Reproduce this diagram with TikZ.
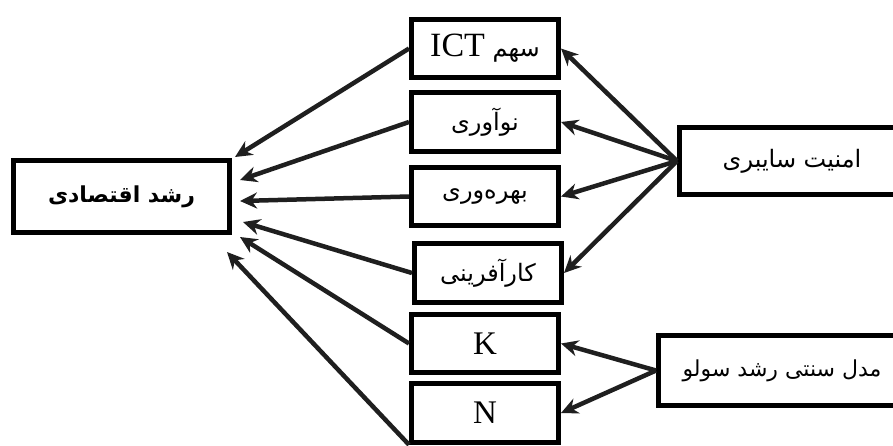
\documentclass[tikz,border=0pt]{standalone}
\usepackage{fontspec}
\setmainfont{Liberation Serif}
\newfontfamily\fa[Script=Arabic]{DejaVu Sans}
\TeXXeTstate=1
\usetikzlibrary{arrows.meta, positioning}

\tikzset{
	box/.style={draw, line width=5pt, minimum width=147pt, minimum height=58.5pt, inner sep=0pt,
		font=\fa\fontsize{24}{28}\selectfont},
	latin/.style={font=\rmfamily\fontsize{33}{38}\selectfont},
	link/.style={->, line width=4.5pt, draw=black!88},
	>={Stealth[length=17pt, width=16pt]}
}

\begin{document}
\begin{tikzpicture}[x=1pt, y=-1pt]
	\useasboundingbox (0,0) rectangle (893,445);
	\clip (0,0) rectangle (893,445);

	\node[box, minimum width=216pt, minimum height=72pt, font=\fa\bfseries\fontsize{22}{26}\selectfont]
		(econ) at (121.5,196.5) {\beginR رشد اقتصادی\endR};

	\node[box] 					(ict) 	at (485,48.5) {\beginR سهم {\rmfamily\fontsize{34}{38}\selectfont ICT}\endR};
	\node[box] 					(inno) 	[below=10pt of ict] {\beginR نوآوری\endR};
	\node[box] 					(prod) 	[below=11pt of inno] {\beginR بهره‌وری\endR};
	\node[box] 					(entr) 	[below=13pt of prod, xshift=3pt] {\beginR کارآفرینی\endR};
	\node[box, latin] 			(capK) 	[below=7pt of entr, xshift=-3pt] {K};
	\node[box, latin] 			(labN) 	[below=6pt of capK] {N};

	\node[box, minimum width=225pt, minimum height=67pt] 	(cyber) at (792,161) {\beginR امنیت سایبری\endR};
	\node[box, minimum width=247pt, minimum height=70pt, font=\fa\fontsize{22}{26}\selectfont]
		(solow) at (782,370.5) {\beginR مدل سنتی رشد سولو\endR};

	\draw[link] (ict.west) 			-- ([xshift=3pt, yshift=39.5pt]econ.east);
	\draw[link] (inno.west) 		-- ([xshift=8pt, yshift=16.5pt]econ.east);
	\draw[link] (prod.west) 		-- ([xshift=8pt, yshift=-4.5pt]econ.east);
	\draw[link] (entr.west) 		-- ([xshift=11pt, yshift=-25.5pt]econ.east);
	\draw[link] (capK.west) 		-- ([xshift=8pt, yshift=-40.5pt]econ.east);
	\draw[link] (labN.south west) 	-- ([xshift=-5pt, yshift=-55.5pt]econ.east);

	\draw[link] (cyber.west) -- (ict.east);
	\draw[link] (cyber.west) -- (inno.east);
	\draw[link] (cyber.west) -- (prod.east);
	\draw[link] (cyber.west) -- (entr.east);
	\draw[link] (solow.west) -- (capK.east);
	\draw[link] (solow.west) -- (labN.east);
\end{tikzpicture}
\end{document}
